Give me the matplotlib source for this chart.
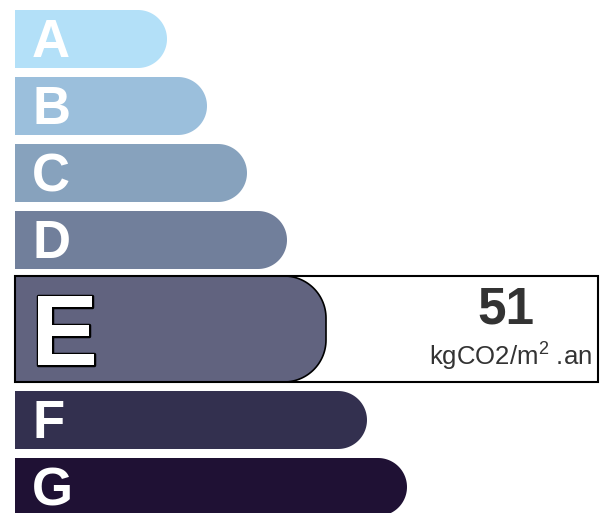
import numpy as np
import matplotlib.pyplot as plt
from matplotlib.patches import Polygon, Rectangle
import matplotlib.patheffects as pe

plt.rcParams["font.family"] = ["Liberation Sans", "DejaVu Sans"]
plt.rcParams["mathtext.fontset"] = "custom"
plt.rcParams["mathtext.rm"] = "Liberation Sans"

# GES classes, bar lengths (px) and the current rating
classes = ["A", "B", "C", "D", "E", "F", "G"]
bar_len = [152, 192, 232, 272, 311, 352, 392]
colors = ["#b3e0f8", "#9bbfdc", "#87a2bd", "#717f9b", "#61637f", "#33304f", "#1f1134"]
current = "E"
value = 51
unit = r"kgCO2/m$^{2}$ .an"


def rounded_bar(ax, x0, y0, x1, y1, r, color, ec="none", lw=0, z=2):
    t1 = np.linspace(-np.pi / 2, 0, 30)
    t2 = np.linspace(0, np.pi / 2, 30)
    top = np.column_stack([x1 - r + r * np.cos(t1), y0 + r + r * np.sin(t1)])
    bot = np.column_stack([x1 - r + r * np.cos(t2), y1 - r + r * np.sin(t2)])
    pts = np.vstack([[x0, y0], top, bot, [x0, y1]])
    ax.add_patch(Polygon(pts, closed=True, facecolor=color, edgecolor=ec,
                         linewidth=lw, zorder=z))


fig = plt.figure(figsize=(6, 5.13), dpi=100)
ax = fig.add_axes([0, 0, 1, 1])
ax.set_xlim(0, 600)
ax.set_ylim(513, 0)
ax.axis("off")

left = 15
y = 10
for cls, length, col in zip(classes, bar_len, colors):
    if cls == current:
        y0, y1 = y - 2, y + 104
        rounded_bar(ax, left, y0, left + length, y1, 42, col, ec="black", lw=1.2)
        ax.add_patch(Rectangle((left, y0), 598 - left, y1 - y0, facecolor="none",
                               edgecolor="black", linewidth=1.5, zorder=3))
        ax.text(31, y0 + 89, cls, color="white", fontsize=72,
                fontweight="bold", ha="left", va="baseline", zorder=4,
                path_effects=[pe.withStroke(linewidth=2.5, foreground="black")])
        ax.text(506, y0 + 47, str(value), color="#333333", fontsize=37,
                fontweight="bold", ha="center", va="baseline", zorder=4)
        ax.text(592, y0 + 89, unit, color="#333333", fontsize=18.5,
                ha="right", va="baseline", zorder=4)
        y = y1 + 9
    else:
        rounded_bar(ax, left, y, left + length, y + 58, 29, col)
        ax.text(32, y + 47, cls, color="white", fontsize=38,
                fontweight="bold", ha="left", va="baseline", zorder=4)
        y += 67

fig.savefig("out.png", dpi=100)
